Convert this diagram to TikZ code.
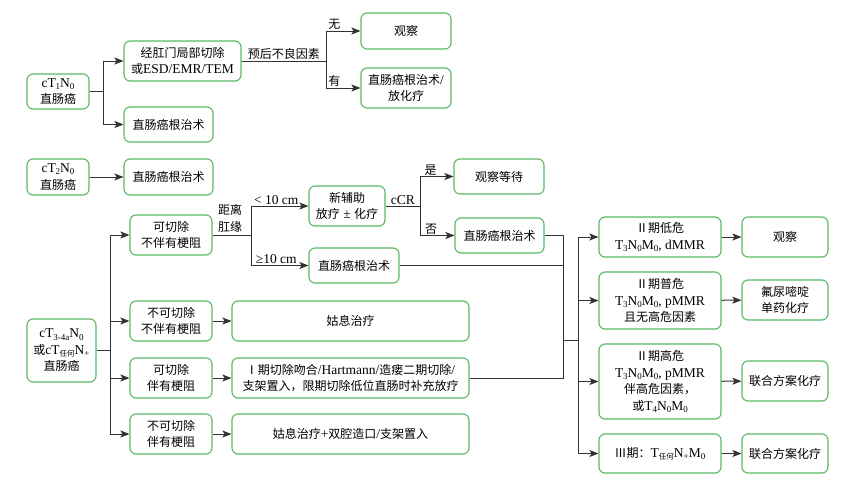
\documentclass[tikz,border=0pt]{standalone}
\usepackage{fontspec}
\setmainfont{Liberation Serif}
\newfontfamily\cjk{Noto Sans CJK SC}
\usetikzlibrary{arrows.meta}
\definecolor{boxgreen}{RGB}{88,184,98}
\definecolor{linegray}{RGB}{50,50,50}
\newcommand\zh[1]{{\cjk\fontsize{12}{16.5}\selectfont #1}}
\newcommand\dn[1]{\raisebox{-0.35ex}{\fontsize{9}{9}\selectfont #1}}
\newcommand\dnz[1]{\raisebox{-0.35ex}{\cjk\fontsize{7.5}{8}\selectfont #1}}
\tikzset{
  box/.style={draw=boxgreen, line width=1.1pt, rounded corners=6pt, align=center,
    inner sep=0pt, font=\fontsize{13.5}{16.5}\selectfont},
  sz/.style 2 args={minimum width=#1pt, minimum height=#2pt},
  conn/.style={draw=linegray, line width=1pt},
  arr/.style={conn, -{Stealth[length=9pt,width=7pt,inset=2pt]}},
  lbl/.style={inner sep=1pt, font=\fontsize{13.5}{16.5}\selectfont, align=center}
}
\begin{document}
\begin{tikzpicture}[x=1pt,y=-1pt]
\useasboundingbox (0,0) rectangle (852,485);
% ---- nodes ----
\node[box, sz={62}{35}] (c1) at (58,91.5) {cT\dn{1}N\dn{0}\\\zh{直肠癌}};
\node[box, sz={117}{40}] (e1) at (182.5,61) {\zh{经肛门局部切除}\\\zh{或}ESD/EMR/TEM};
\node[box, sz={89}{35}] (r1) at (168.5,124.5) {\zh{直肠癌根治术}};
\node[box, sz={90}{36}] (o1) at (406,31) {\zh{观察}};
\node[box, sz={90}{40}] (rad1) at (406,88) {\zh{直肠癌根治术}/\\\zh{放化疗}};
\node[box, sz={62}{36}] (c2) at (58,177) {cT\dn{2}N\dn{0}\\\zh{直肠癌}};
\node[box, sz={89}{36}] (r2) at (168.5,177) {\zh{直肠癌根治术}};
\node[box, sz={69}{63}] (c3) at (61.5,350.5) {cT\dn{3-4a}N\dn{0}\\\zh{或}cT\dnz{任何}N\dn{+}\\\zh{直肠癌}};
\node[box, sz={82}{40}] (a1) at (171,235) {\zh{可切除}\\\zh{不伴有梗阻}};
\node[box, sz={82}{40}] (a2) at (171,321) {\zh{不可切除}\\\zh{不伴有梗阻}};
\node[box, sz={82}{40}] (a3) at (171,378) {\zh{可切除}\\\zh{伴有梗阻}};
\node[box, sz={82}{40}] (a4) at (171,434) {\zh{不可切除}\\\zh{伴有梗阻}};
\node[box, sz={76}{40}] (n1) at (347,206) {\zh{新辅助}\\\zh{放疗} ± \zh{化疗}};
\node[box, sz={90}{35}] (r3) at (354,265.5) {\zh{直肠癌根治术}};
\node[box, sz={90}{35}] (w1) at (499,176.5) {\zh{观察等待}};
\node[box, sz={89}{35}] (r4) at (499.5,235.5) {\zh{直肠癌根治术}};
\node[box, sz={237}{40}] (p1) at (350.5,321) {\zh{姑息治疗}};
\node[box, sz={237}{40}] (s1) at (350.5,378) {\zh{Ⅰ期切除吻合}/Hartmann/\zh{造瘘二期切除}/\\\zh{支架置入，限期切除低位直肠时补充放疗}};
\node[box, sz={237}{40}] (p2) at (350.5,434) {\zh{姑息治疗}+\zh{双腔造口}/\zh{支架置入}};
\node[box, sz={122}{40}] (b1) at (660,237) {\zh{Ⅱ期低危}\\T\dn{3}N\dn{0}M\dn{0}, dMMR};
\node[box, sz={122}{57}] (b2) at (660,300.5) {\zh{Ⅱ期普危}\\T\dn{3}N\dn{0}M\dn{0}, pMMR\\\zh{且无高危因素}};
\node[box, sz={122}{75}] (b3) at (660,381.5) {\zh{Ⅱ期高危}\\T\dn{3}N\dn{0}M\dn{0}, pMMR\\\zh{伴高危因素，}\\\zh{或}T\dn{4}N\dn{0}M\dn{0}};
\node[box, sz={122}{39}] (b4) at (660,453.5) {\zh{Ⅲ期：}T\dnz{任何}N\dn{+}M\dn{0}};
\node[box, sz={86}{40}] (x1) at (785,237) {\zh{观察}};
\node[box, sz={86}{40}] (x2) at (785,300) {\zh{氟尿嘧啶}\\\zh{单药化疗}};
\node[box, sz={86}{40}] (x3) at (785,381) {\zh{联合方案化疗}};
\node[box, sz={86}{39}] (x4) at (785,453.5) {\zh{联合方案化疗}};
% ---- junctions ----
\coordinate (j1) at (103,91.5);
\coordinate (j2) at (326,61);
\coordinate (j3) at (110,350.5);
\coordinate (j4) at (251,235);
\coordinate (j5) at (420,206);
\coordinate (m1) at (563,340);
\coordinate (m2) at (578,340);
% ---- connectors ----
\draw[conn] (c1.east) -- (j1);
\draw[arr] (j1) |- (e1);
\draw[arr] (j1) |- (r1);
\draw[conn] (e1.east) -- node[lbl, above] {\zh{预后不良因素}} (j2);
\draw[arr] (j2) |- node[lbl, above, pos=0.62] {\zh{无}} (o1);
\draw[arr] (j2) |- node[lbl, above, pos=0.62] {\zh{有}} (rad1);
\draw[arr] (c2) -- (r2);
\draw[conn] (c3.east) -- (j3);
\draw[arr] (j3) |- (a1);
\draw[arr] (j3) |- (a2);
\draw[arr] (j3) |- (a3);
\draw[arr] (j3) |- (a4);
\draw[conn] (a1.east) -- (j4);
\node[lbl, font=\fontsize{12}{17}\selectfont] (dl) at (230,218) {\zh{距离}\\\zh{肛缘}};
\draw[arr] (j4) |- node[lbl, above, pos=0.72] {< 10 cm} (n1);
\draw[arr] (j4) |- node[lbl, above, pos=0.72] {≥10 cm} (r3);
\draw[conn] (n1.east) -- node[lbl, above, pos=0.5] {cCR} (j5);
\draw[arr] (j5) |- node[lbl, above, pos=0.66] {\zh{是}} (w1);
\draw[arr] (j5) |- node[lbl, above, pos=0.66] {\zh{否}} (r4);
\draw[arr] (a2) -- (p1);
\draw[arr] (a3) -- (s1);
\draw[arr] (a4) -- (p2);
\draw[conn] (r4.east) -- (r4.east -| m1) -- (s1.east -| m1) -- (s1.east);
\draw[conn] (r3.east) -- (r3.east -| m1);
\draw[conn] (m1) -- (m2);
\draw[arr] (m2) |- (b1);
\draw[arr] (m2) |- (b2);
\draw[arr] (m2) |- (b3);
\draw[arr] (m2) |- (b4);
\draw[arr] (b1) -- (x1);
\draw[arr] (b2) -- (x2);
\draw[arr] (b3) -- (x3);
\draw[arr] (b4) -- (x4);
\end{tikzpicture}
\end{document}
